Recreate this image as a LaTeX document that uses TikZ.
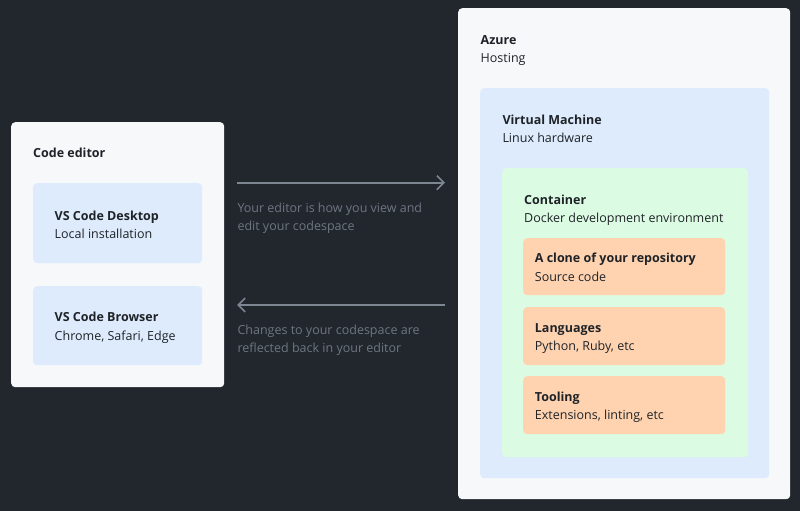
\documentclass[tikz,border=0pt]{standalone}
\usepackage{fontspec}
\setmainfont{Open Sans}
\usetikzlibrary{arrows.meta}
\definecolor{bgdark}{HTML}{22272E}
\definecolor{panel}{HTML}{F6F8FA}
\definecolor{bluebox}{HTML}{DDEBFC}
\definecolor{greenbox}{HTML}{DCFBE3}
\definecolor{orangebox}{HTML}{FFD3B0}
\definecolor{inkdark}{HTML}{1F2328}
\definecolor{arrowgray}{HTML}{7D8590}
\definecolor{notegray}{HTML}{6E7681}
\tikzset{
  x=1pt, y=-1pt,
  box/.style={anchor=north west, inner sep=0pt, rounded corners=4pt, draw=none},
  ttl/.style={anchor=base west, inner sep=0pt, text=inkdark, font=\fontsize{12.5}{15}\selectfont\bfseries},
  sub/.style={anchor=base west, inner sep=0pt, text=inkdark, font=\fontsize{12.5}{15}\selectfont},
  note/.style={anchor=base west, inner sep=0pt, text=notegray, font=\fontsize{12.5}{15}\selectfont},
  flow/.style={draw=arrowgray, line width=1.6pt, -{Straight Barb[length=7pt,width=14pt,line width=1.6pt]}},
}
\begin{document}
\begin{tikzpicture}
\fill[bgdark] (0,0) rectangle (800,511);
\useasboundingbox (0,0) rectangle (800,511);
% left panel
\node[box, fill=panel, minimum width=213pt, minimum height=265pt] (editor) at (11,122) {};
\node[ttl] (editorT) at (33,157.7) {Code editor};
\node[box, fill=bluebox, minimum width=169pt, minimum height=80pt] (desk) at (33,183) {};
\node[ttl] (deskT) at (54.5,220) {VS Code Desktop};
\node[sub] (deskS) at (54.5,238.5) {Local installation};
\node[box, fill=bluebox, minimum width=169pt, minimum height=79pt] (brow) at (33,286) {};
\node[ttl] (browT) at (54.5,321) {VS Code Browser};
\node[sub] (browS) at (54.5,340) {Chrome, Safari, Edge};
% right panel
\node[box, fill=panel, minimum width=332pt, minimum height=491pt] (azure) at (458,8) {};
\node[ttl] (azureT) at (480.5,44.3) {Azure};
\node[sub] (azureS) at (480.5,62.7) {Hosting};
\node[box, fill=bluebox, minimum width=289pt, minimum height=390pt] (vm) at (480,88) {};
\node[ttl] (vmT) at (502.3,124) {Virtual Machine};
\node[sub] (vmS) at (502.3,142.7) {Linux hardware};
\node[box, fill=greenbox, minimum width=246pt, minimum height=289pt] (cont) at (502,168) {};
\node[ttl] (contT) at (524,204.3) {Container};
\node[sub] (contS) at (524,222.7) {Docker development environment};
\node[box, fill=orangebox, minimum width=202pt, minimum height=57pt] (clone) at (523,238) {};
\node[ttl] (cloneT) at (534.7,262.7) {A clone of your repository};
\node[sub] (cloneS) at (534.7,281) {Source code};
\node[box, fill=orangebox, minimum width=202pt, minimum height=58pt] (lang) at (523,307) {};
\node[ttl] (langT) at (534.7,332) {Languages};
\node[sub] (langS) at (534.7,350.3) {Python, Ruby, etc};
\node[box, fill=orangebox, minimum width=202pt, minimum height=58pt] (tool) at (523,376) {};
\node[ttl] (toolT) at (534.7,401) {Tooling};
\node[sub] (toolS) at (534.7,419.3) {Extensions, linting, etc};
% arrows
\coordinate (a1s) at (237,182.7);
\coordinate (a1e) at (445,182.7);
\coordinate (a2s) at (445,305);
\coordinate (a2e) at (237,305);
\draw[flow] (a1s) -- (a1e);
\draw[flow] (a2s) -- (a2e);
\node[note] (n1a) at (237.3,212.3) {Your editor is how you view and};
\node[note] (n1b) at (237.3,230.5) {edit your codespace};
\node[note] (n2a) at (237.3,334.3) {Changes to your codespace are};
\node[note] (n2b) at (237.3,352.7) {reflected back in your editor};
\end{tikzpicture}
\end{document}
